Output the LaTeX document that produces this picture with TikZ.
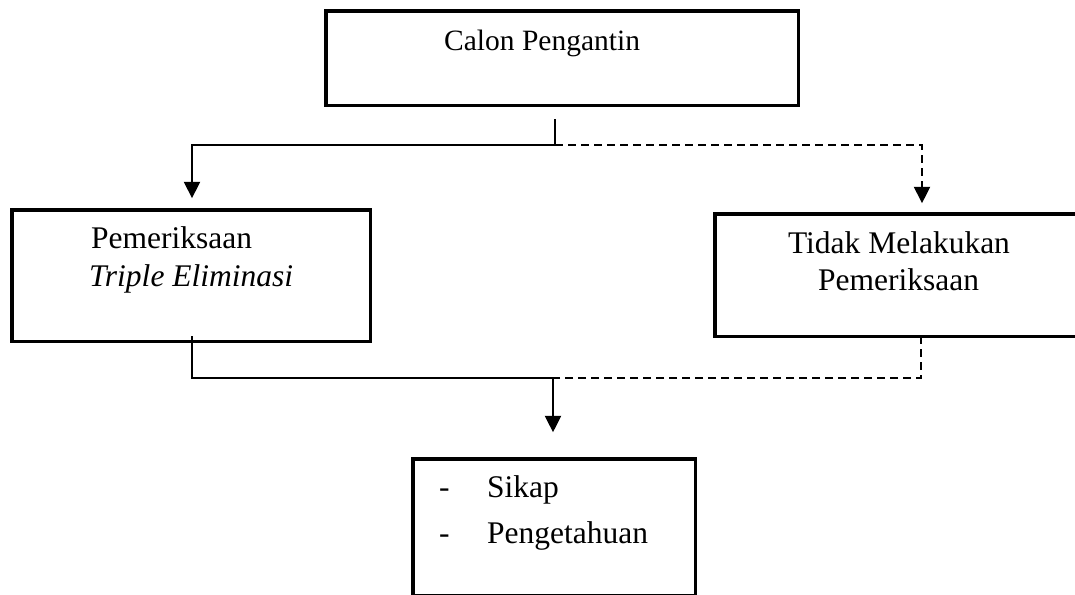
\documentclass[tikz,border=0pt]{standalone}
\usepackage{fontspec}
\setmainfont{Liberation Serif}
\usetikzlibrary{arrows.meta,calc}
\begin{document}
\begin{tikzpicture}[x=1pt,y=-1pt,
 box/.style={draw,line width=3.5pt,inner sep=0pt},
 conn/.style={line width=2.2pt},
 dsh/.style={conn,dash pattern=on 8pt off 5pt},
 arr/.style={-{Triangle[length=16.5pt,width=16pt]}},
 txt/.style={inner sep=0pt,anchor=base west,font=\fontsize{31.5}{38}\selectfont}]
\useasboundingbox (0,0) rectangle (1075,594);
% boxes
\node[box,minimum width=472.5pt,minimum height=94.2pt] (top) at (562,58.2) {};
\node[box,minimum width=358.5pt,minimum height=131.5pt] (lbox) at (191,275.5) {};
\node[box,minimum width=368.5pt,minimum height=122.5pt] (rbox) at (899,275) {};
\node[box,minimum width=282.5pt,minimum height=137.25pt] (bbox) at (554,527.4) {};
% texts
\node[txt,font=\fontsize{29.5}{36}\selectfont] (t1) at (444,51) {Calon Pengantin};
\node[txt] (t2) at (91,248) {Pemeriksaan};
\node[txt] (t3) at (89,286) {\itshape Triple Eliminasi};
\node[txt,anchor=base] (t4) at (899,253) {Tidak Melakukan};
\node[txt,anchor=base] (t5) at (898.5,290) {Pemeriksaan};
\node[txt] (d1) at (439,497) {-};
\node[txt] (t6) at (487,497) {Sikap};
\node[txt] (d2) at (439,543) {-};
\node[txt] (t7) at (487,543) {Pengetahuan};
% junctions
\coordinate (j1) at (555,145);
\coordinate (jl) at (192,145);
\coordinate (jr) at (922,145);
\coordinate (j2) at (553,378);
\coordinate (bl) at (192,378);
\coordinate (br) at (921,378);
% connectors
\draw[conn] ($(top.south -| j1)+(0,12)$) -- (j1);
\draw[conn,arr,shorten >=9.75pt] (j1) -- (jl) -- (jl |- lbox.north);
\draw[dsh,arr,shorten >=8.75pt] (j1) -- (jr) -- (jr |- rbox.north);
\draw[conn] ($(lbox.south -| bl)+(0,-7)$) -- (bl) -- (j2);
\draw[dsh] ($(rbox.south -| br)+(0,-2)$) -- (br) -- (j2);
\draw[conn,arr,shorten >=24.75pt] (j2) -- (j2 |- bbox.north);
\end{tikzpicture}
\end{document}
